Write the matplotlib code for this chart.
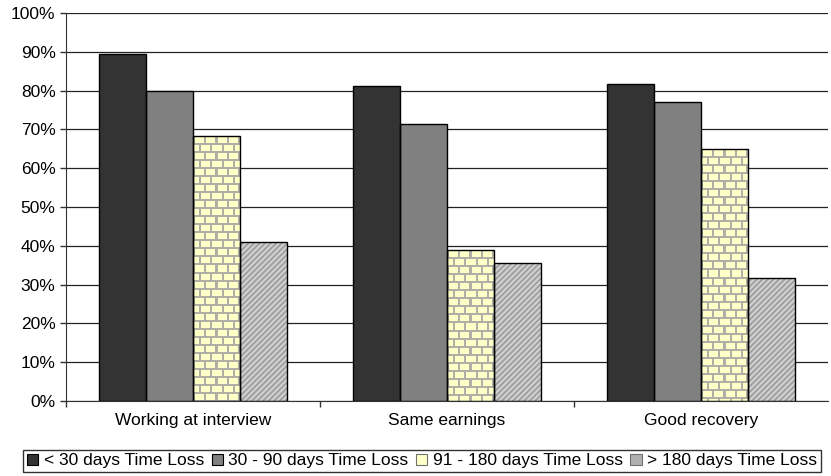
import matplotlib
matplotlib.use('Agg')
import matplotlib.pyplot as plt
import numpy as np
from matplotlib.patches import Rectangle

plt.rcParams['font.family'] = ['Liberation Sans', 'DejaVu Sans']
plt.rcParams['hatch.linewidth'] = 1.6

# outcome categories and share of workers per time-loss group
categories = ['Working at interview', 'Same earnings', 'Good recovery']
series_names = ['< 30 days Time Loss', '30 - 90 days Time Loss',
                '91 - 180 days Time Loss', '> 180 days Time Loss']
under_30 = [89.5, 81.3, 81.8]
from_30_90 = [79.8, 71.4, 77.0]
from_91_180 = [68.3, 39.0, 65.0]
over_180 = [41.0, 35.5, 31.8]
series = [under_30, from_30_90, from_91_180, over_180]
y_ticks = list(range(0, 101, 10))

W, H, DPI = 831, 476, 100
FS = 12.5
fig = plt.figure(figsize=(W / DPI, H / DPI), dpi=DPI)
ax = fig.add_axes([66 / W, (H - 401) / H, 762 / W, 388 / H])
ax.set_xlim(-0.5, len(categories) - 0.5)
ax.set_ylim(0, 100)

bar_w = 0.185
x = np.arange(len(categories))
offsets = (np.arange(4) - 1.5) * bar_w


def brick_texture(wpx, hpx):
    # yellow bricks with grey mortar, 11 px long, 8 px tall
    img = np.empty((hpx, wpx, 3))
    img[:] = np.array([255, 255, 200]) / 255
    mortar = np.array([175, 175, 165]) / 255
    rows = np.arange(hpx)
    cols = np.arange(wpx)
    img[(rows % 8) < 2] = mortar
    for r in range(hpx):
        shift = 0 if (r // 8) % 2 == 0 else 5
        img[r, ((cols + shift) % 11) < 2] = mortar
    return img


fills = ['#333333', '#808080', '#ffffc8', '#9c9c9c']

for j, vals in enumerate(series):
    if j == 3:
        # hatch takes the edge colour, so stripes first, outline after
        ax.bar(x + offsets[j], vals, bar_w, facecolor=fills[j],
               edgecolor='#d0d0d0', linewidth=0, hatch='//////', zorder=2)
    else:
        ax.bar(x + offsets[j], vals, bar_w, facecolor=fills[j],
               edgecolor='none', zorder=2)
    if j == 2:
        bars = ax.patches[-len(vals):]
        fig.canvas.draw()
        for b in bars:
            (x0, y0), (x1, y1) = ax.transData.transform(
                [(b.get_x(), 0), (b.get_x() + b.get_width(), b.get_height())])
            tex = brick_texture(max(int(x1 - x0), 1), max(int(y1 - y0), 1))
            im = ax.imshow(tex, extent=(b.get_x(), b.get_x() + b.get_width(),
                                        0, b.get_height()),
                           aspect='auto', interpolation='nearest', zorder=2.2,
                           origin='upper')
            im.set_clip_path(b)
    ax.bar(x + offsets[j], vals, bar_w, facecolor='none',
           edgecolor='black', linewidth=1, zorder=2.4)

ax.set_xlim(-0.5, len(categories) - 0.5)
ax.set_ylim(0, 100)

ax.set_yticks(y_ticks)
ax.set_yticklabels([f'{t}%' for t in y_ticks], fontsize=FS)
ax.yaxis.grid(True, color='#222222', linewidth=0.9)
ax.set_axisbelow(True)

ax.set_xticks(x)
ax.set_xticklabels(categories, fontsize=FS)
ax.set_xticks(np.arange(len(categories)) - 0.5, minor=True)
ax.tick_params(axis='x', which='major', length=0, pad=9)
ax.tick_params(axis='x', which='minor', length=4.5, width=1, color='#333333')
ax.tick_params(axis='y', length=4.5, width=1, color='#333333', pad=3)

for side in ['top', 'right']:
    ax.spines[side].set_visible(False)
ax.spines['left'].set_color('#333333')
ax.spines['bottom'].set_color('#333333')

# legend handles
handles = [
    Rectangle((0, 0), 1, 1, facecolor='#333333', edgecolor='black', lw=0.8),
    Rectangle((0, 0), 1, 1, facecolor='#808080', edgecolor='black', lw=0.8),
    Rectangle((0, 0), 1, 1, facecolor='#ffffc8', edgecolor='#707070', lw=0.8),
    Rectangle((0, 0), 1, 1, facecolor='#b0b0b0', edgecolor='#707070', lw=0.8),
]
leg = fig.legend(handles, series_names, loc='center', ncol=4,
                 bbox_to_anchor=(422 / W, (H - 461) / H), fontsize=FS,
                 frameon=True, fancybox=False, handlelength=0.65,
                 handleheight=0.65, handletextpad=0.3, columnspacing=0.45,
                 borderpad=0.22, borderaxespad=0)
leg.get_frame().set_edgecolor('black')
leg.get_frame().set_linewidth(1)

fig.savefig('out.png', dpi=DPI)
